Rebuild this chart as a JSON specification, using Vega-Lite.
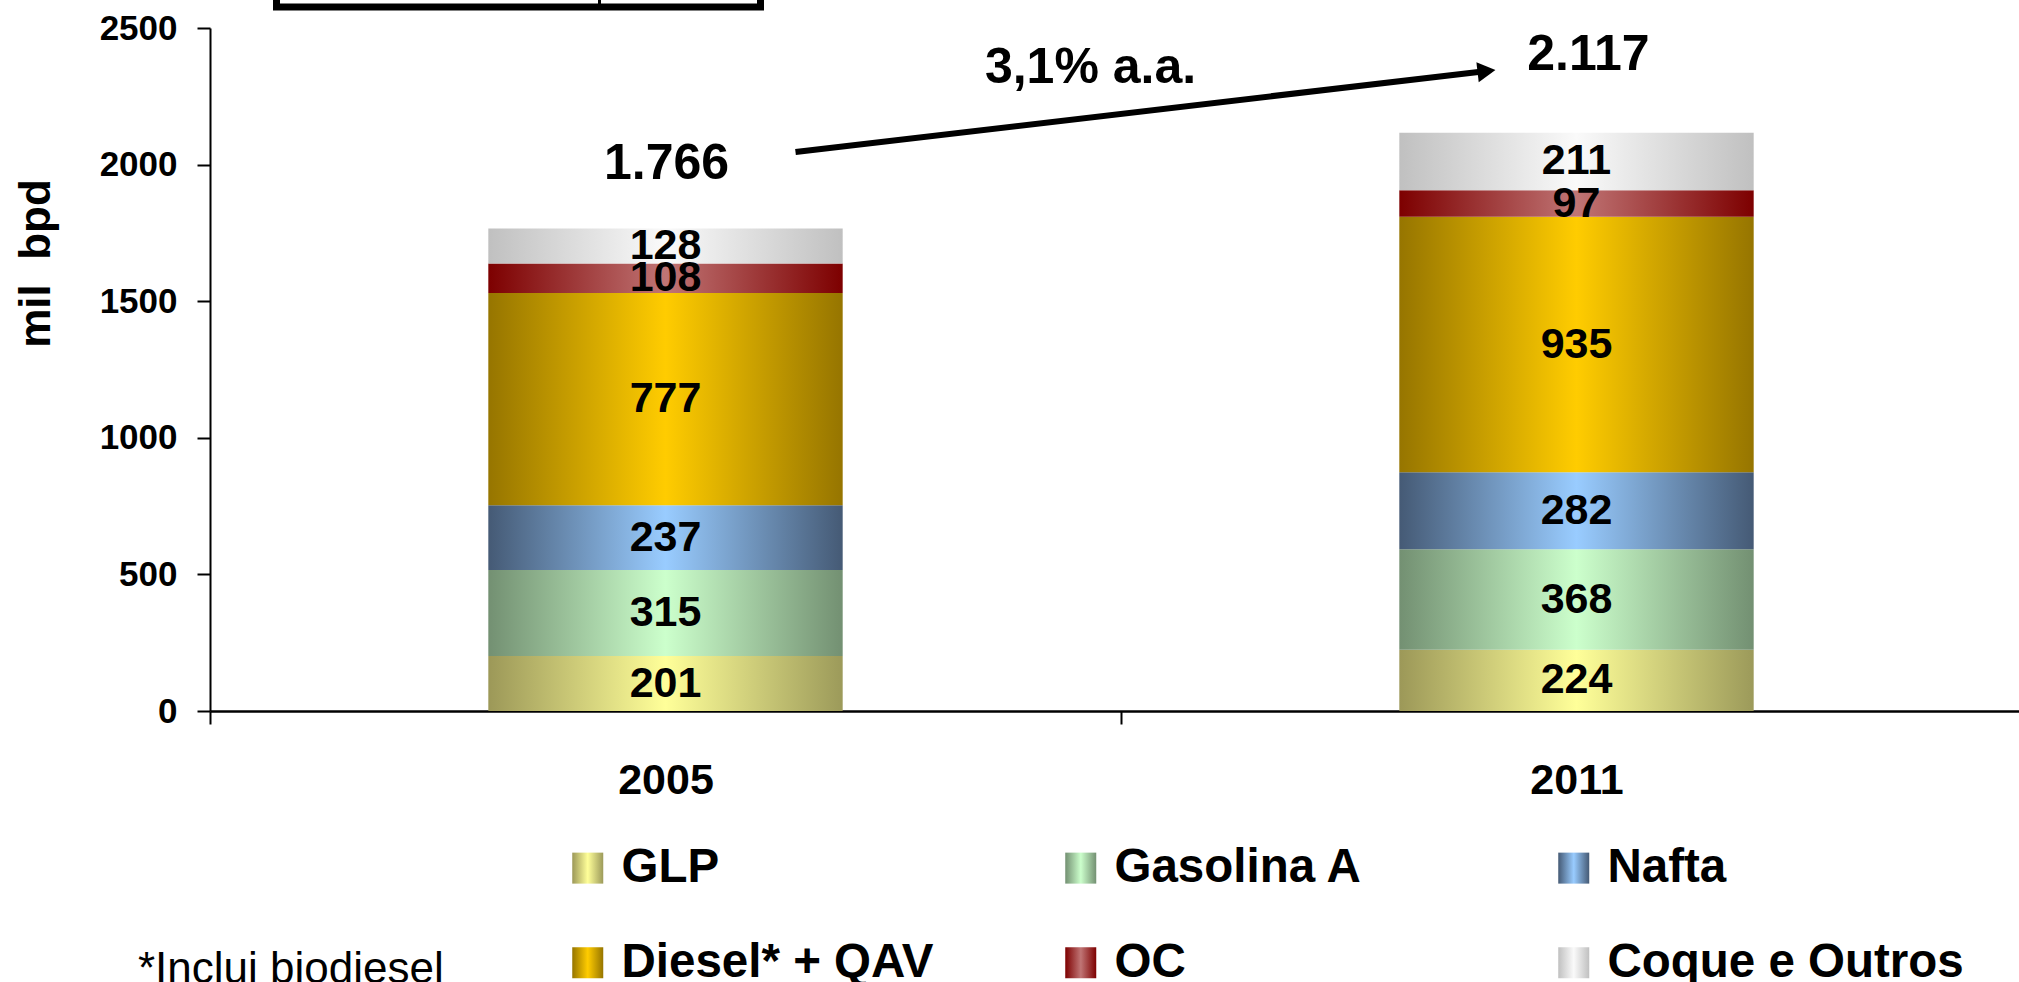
{
  "$schema": "https://vega.github.io/schema/vega-lite/v6.json",
  "width": 1809,
  "height": 683,
  "autosize": {"type": "none"},
  "padding": {"left": 210, "top": 28, "right": 0, "bottom": 271},
  "background": "white",
  "config": {"view": {"stroke": null}, "font": "Liberation Sans"},
  "datasets": {
    "prod": [
      {"year": "2005", "cat": "GLP", "value": 201},
      {"year": "2005", "cat": "Gasolina A", "value": 315},
      {"year": "2005", "cat": "Nafta", "value": 237},
      {"year": "2005", "cat": "Diesel* + QAV", "value": 777},
      {"year": "2005", "cat": "OC", "value": 108},
      {"year": "2005", "cat": "Coque e Outros", "value": 128},
      {"year": "2011", "cat": "GLP", "value": 224},
      {"year": "2011", "cat": "Gasolina A", "value": 368},
      {"year": "2011", "cat": "Nafta", "value": 282},
      {"year": "2011", "cat": "Diesel* + QAV", "value": 935},
      {"year": "2011", "cat": "OC", "value": 97},
      {"year": "2011", "cat": "Coque e Outros", "value": 211}
    ]
  },
  "layer": [
    {
      "data": {"name": "prod"},
      "transform": [
        {"calculate": "indexof(['GLP','Gasolina A','Nafta','Diesel* + QAV','OC','Coque e Outros'], datum.cat)", "as": "ord"},
        {"stack": "value", "groupby": ["year"], "sort": [{"field": "ord", "order": "ascending"}], "as": ["y0", "y1"]}
      ],
      "mark": {"type": "bar", "width": {"band": 0.389}},
      "encoding": {
        "x": {
          "field": "year", "type": "nominal",
          "scale": {"paddingInner": 0, "paddingOuter": 0, "range": [0, 1822]},
          "axis": {
            "title": null, "labelAngle": 0, "labelFontSize": 43, "labelFontWeight": "bold", "labelColor": "black",
            "labelFont": "Liberation Sans", "labelPadding": 35, "tickSize": 13, "tickWidth": 2, "tickColor": "black",
            "tickBand": "extent", "domainColor": "black", "domainWidth": 2.5
          }
        },
        "y": {
          "field": "y0", "type": "quantitative",
          "scale": {"domain": [0, 2500], "nice": false},
          "axis": {
            "values": [0, 500, 1000, 1500, 2000, 2500], "format": "d", "grid": false,
            "labelFontSize": 35, "labelFontWeight": "bold", "labelColor": "black", "labelFont": "Liberation Sans",
            "labelPadding": 20, "tickSize": 13, "tickWidth": 2, "tickColor": "black",
            "domainColor": "black", "domainWidth": 2,
            "title": "mil\u00a0\u00a0bpd", "titleFontSize": 44, "titleFontWeight": "bold", "titleColor": "black",
            "titleFont": "Liberation Sans", "titleX": -152, "titleY": 235, "titleAngle": -90,
            "titleAlign": "center", "titleBaseline": "bottom"
          }
        },
        "y2": {"field": "y1"},
        "color": {
          "field": "cat", "type": "nominal",
          "scale": {
            "domain": ["GLP", "Gasolina A", "Nafta", "Diesel* + QAV", "OC", "Coque e Outros"],
            "range": [
              {"expr": "{gradient:'linear',x1:0,y1:0,x2:1,y2:0,stops:[{offset:0,color:'#9c9858'},{offset:0.5,color:'#ffff99'},{offset:1,color:'#9c9a5a'}]}"},
              {"expr": "{gradient:'linear',x1:0,y1:0,x2:1,y2:0,stops:[{offset:0,color:'#739072'},{offset:0.5,color:'#ccffcc'},{offset:1,color:'#739072'}]}"},
              {"expr": "{gradient:'linear',x1:0,y1:0,x2:1,y2:0,stops:[{offset:0,color:'#455a75'},{offset:0.5,color:'#99ccff'},{offset:1,color:'#455a75'}]}"},
              {"expr": "{gradient:'linear',x1:0,y1:0,x2:1,y2:0,stops:[{offset:0,color:'#967500'},{offset:0.5,color:'#ffcc00'},{offset:1,color:'#967500'}]}"},
              {"expr": "{gradient:'linear',x1:0,y1:0,x2:1,y2:0,stops:[{offset:0,color:'#7d0000'},{offset:0.5,color:'#c07575'},{offset:1,color:'#7d0000'}]}"},
              {"expr": "{gradient:'linear',x1:0,y1:0,x2:1,y2:0,stops:[{offset:0,color:'#c0c0c0'},{offset:0.5,color:'#fafafa'},{offset:1,color:'#c0c0c0'}]}"}
            ]
          },
          "legend": {
            "orient": "none", "legendX": 354, "legendY": 816, "direction": "horizontal", "columns": 3,
            "gridAlign": "all", "columnPadding": 79, "rowPadding": 46, "symbolType": "square", "symbolSize": 961,
            "symbolStrokeWidth": 0, "symbolOpacity": 1, "labelFontSize": 47.5, "labelFontWeight": "bold",
            "labelFont": "Liberation Sans", "labelColor": "black", "labelOffset": 10, "labelLimit": 800,
            "title": null, "padding": 0, "offset": 0
          }
        }
      }
    },
    {
      "data": {"name": "prod"},
      "transform": [
        {"calculate": "indexof(['GLP','Gasolina A','Nafta','Diesel* + QAV','OC','Coque e Outros'], datum.cat)", "as": "ord"},
        {"stack": "value", "groupby": ["year"], "sort": [{"field": "ord", "order": "ascending"}], "as": ["y0", "y1"]},
        {"calculate": "(datum.y0 + datum.y1) / 2", "as": "mid"}
      ],
      "mark": {"type": "text", "fontSize": 43, "fontWeight": "bold", "font": "Liberation Sans", "color": "black", "baseline": "middle", "align": "center"},
      "encoding": {
        "x": {"field": "year", "type": "nominal"},
        "y": {"field": "mid", "type": "quantitative", "scale": {"domain": [0, 2500], "nice": false}},
        "text": {"field": "value", "type": "quantitative"}
      }
    },
    {
      "data": {"values": [{}]},
      "mark": {"type": "text", "fontSize": 50, "fontWeight": "bold", "font": "Liberation Sans", "color": "black", "baseline": "middle", "align": "center", "dx": 1},
      "encoding": {
        "x": {"datum": "2005", "type": "nominal"},
        "y": {"datum": 2002, "type": "quantitative"},
        "text": {"value": "1.766"}
      }
    },
    {
      "data": {"values": [{}]},
      "mark": {"type": "text", "fontSize": 50, "fontWeight": "bold", "font": "Liberation Sans", "color": "black", "baseline": "middle", "align": "center", "dx": 12},
      "encoding": {
        "x": {"datum": "2011", "type": "nominal"},
        "y": {"datum": 2401, "type": "quantitative"},
        "text": {"value": "2.117"}
      }
    },
    {
      "data": {"values": [{}]},
      "mark": {"type": "text", "fontSize": 50, "fontWeight": "bold", "font": "Liberation Sans", "color": "black", "baseline": "middle", "align": "center", "dx": 425},
      "encoding": {
        "x": {"datum": "2005", "type": "nominal"},
        "y": {"datum": 2354, "type": "quantitative"},
        "text": {"value": "3,1% a.a."}
      }
    },
    {
      "data": {"values": [{}]},
      "mark": {"type": "text", "fontSize": 44, "fontWeight": "normal", "font": "Liberation Sans", "color": "black", "baseline": "alphabetic", "align": "left", "dx": -527.5},
      "encoding": {
        "x": {"datum": "2005", "type": "nominal"},
        "y": {"datum": -997, "type": "quantitative"},
        "text": {"value": "*Inclui biodiesel"}
      }
    },
    {
      "data": {"values": [{}]},
      "mark": {"type": "rule", "strokeWidth": 6, "color": "black", "xOffset": 130, "x2Offset": -96},
      "encoding": {
        "x": {"datum": "2005", "type": "nominal"},
        "x2": {"datum": "2011"},
        "y": {"datum": 2046, "type": "quantitative"},
        "y2": {"datum": 2340}
      }
    },
    {
      "data": {"values": [{}]},
      "mark": {"type": "point", "shape": "M-0.9,-1L0.9,0L-0.9,1Z", "filled": true, "color": "black", "opacity": 1, "size": 400, "angle": -6.7, "xOffset": -90},
      "encoding": {
        "x": {"datum": "2011", "type": "nominal"},
        "y": {"datum": 2342, "type": "quantitative"}
      }
    },
    {
      "data": {"values": [{}]},
      "mark": {"type": "rule", "strokeWidth": 7, "color": "black", "xOffset": -392.5, "x2Offset": 98.5},
      "encoding": {
        "x": {"datum": "2005", "type": "nominal"},
        "x2": {"datum": "2005"},
        "y": {"datum": 2577, "type": "quantitative"}
      }
    },
    {
      "data": {"values": [{}]},
      "mark": {"type": "rule", "strokeWidth": 7, "color": "black", "xOffset": -389},
      "encoding": {
        "x": {"datum": "2005", "type": "nominal"},
        "y": {"datum": 2570, "type": "quantitative"},
        "y2": {"datum": 2640}
      }
    },
    {
      "data": {"values": [{}]},
      "mark": {"type": "rule", "strokeWidth": 7, "color": "black", "xOffset": 95},
      "encoding": {
        "x": {"datum": "2005", "type": "nominal"},
        "y": {"datum": 2570, "type": "quantitative"},
        "y2": {"datum": 2640}
      }
    },
    {
      "data": {"values": [{}]},
      "mark": {"type": "rule", "strokeWidth": 3, "color": "black", "xOffset": -66},
      "encoding": {
        "x": {"datum": "2005", "type": "nominal"},
        "y": {"datum": 2570, "type": "quantitative"},
        "y2": {"datum": 2640}
      }
    }
  ]
}
